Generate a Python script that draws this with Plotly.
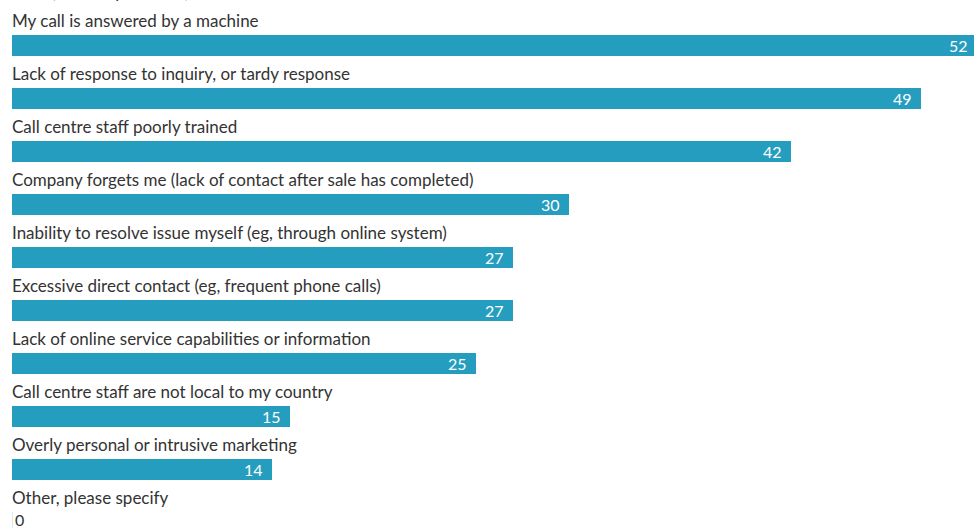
import plotly.graph_objects as go

categories = [
    "My call is answered by a machine",
    "Lack of response to inquiry, or tardy response",
    "Call centre staff poorly trained",
    "Company forgets me (lack of contact after sale has completed)",
    "Inability to resolve issue myself (eg, through online system)",
    "Excessive direct contact (eg, frequent phone calls)",
    "Lack of online service capabilities or information",
    "Call centre staff are not local to my country",
    "Overly personal or intrusive marketing",
    "Other, please specify",
]
values = [52, 49, 42, 30, 27, 27, 25, 15, 14, 0]
subtitle = "(% of respondents)"

BAR = "#259dbf"
TEXT = "#333333"
FONT = "Lato"

W, H = 974, 528
XMAX = 51.85
rows = list(range(len(categories)))

fig = go.Figure()
fig.add_trace(go.Bar(
    x=values, y=rows, orientation="h",
    width=0.40,
    marker=dict(color=BAR, line=dict(width=0)),
    hoverinfo="skip",
))

annotations = []
for i, (cat, v) in enumerate(zip(categories, values)):
    # category label sits above its bar
    annotations.append(dict(
        x=0, y=i, xref="x", yref="y", text=cat, showarrow=False,
        xanchor="left", yanchor="middle", yshift=25, xshift=-2,
        font=dict(family=FONT, size=17, color=TEXT),
    ))
    # value label: white inside the bar end, dark beside an empty bar
    inside = v > 0
    annotations.append(dict(
        x=v / XMAX, y=i, xref="paper", yref="y", text=str(v), showarrow=False,
        xanchor="right" if inside else "left", yanchor="middle",
        xshift=-7 if inside else 1, yshift=0 if inside else 3,
        font=dict(family=FONT, size=16, color="white" if inside else TEXT),
    ))

annotations.append(dict(
    x=0, y=0, xref="x", yref="paper", text=subtitle, showarrow=False,
    xanchor="left", yanchor="bottom", xshift=37, yshift=H - 4,
    font=dict(family=FONT, size=17, color=TEXT),
))

shapes = []
for i, v in enumerate(values):
    if v == 0:
        shapes.append(dict(
            type="line", xref="x", yref="y", x0=0, x1=0,
            y0=i - 0.20, y1=i + 0.20,
            line=dict(color="#d6ecf3", width=2),
        ))

fig.update_layout(
    width=W, height=H,
    margin=dict(l=12, r=0, t=0, b=0),
    paper_bgcolor="white", plot_bgcolor="white",
    showlegend=False,
    xaxis=dict(range=[0, XMAX], visible=False, fixedrange=True),
    yaxis=dict(range=[9.104, -0.858], visible=False, fixedrange=True),
    annotations=annotations,
    shapes=shapes,
    bargap=0,
)

fig.write_html("out.html", config={"displayModeBar": False})
